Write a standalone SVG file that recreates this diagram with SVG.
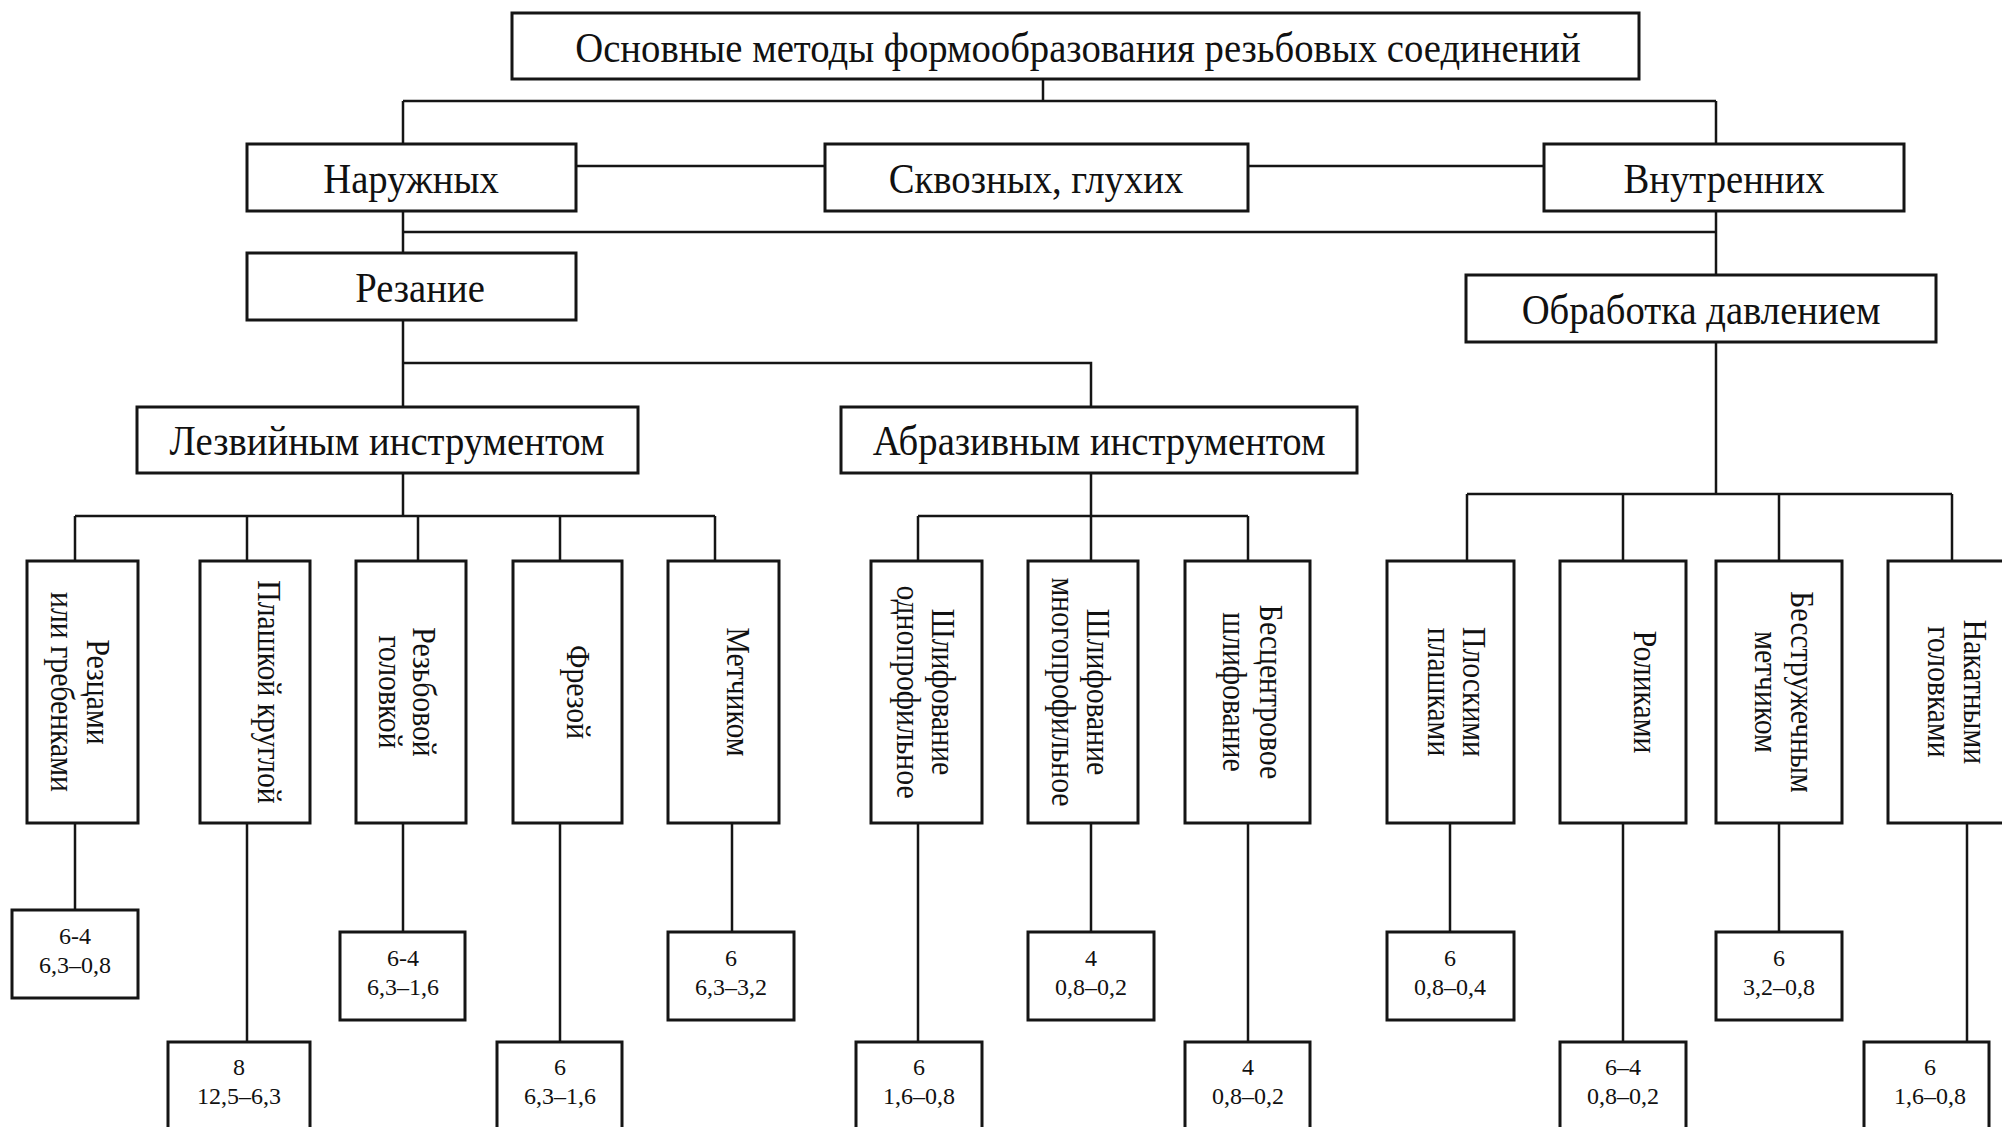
<svg xmlns="http://www.w3.org/2000/svg" width="2002" height="1127" viewBox="0 0 2002 1127">
<style>
.box{fill:#fff;stroke:#151515;stroke-width:3}
.ln{fill:none;stroke:#151515;stroke-width:2.5}
text{font-family:"Liberation Serif","Times New Roman",serif;fill:#111;text-anchor:middle}
.h{font-size:43px}
.v{font-size:33px}
.n{font-size:24px}
</style>
<rect width="2002" height="1127" fill="#fff"/>
<g id="connectors" class="ln">
<path d="M1043 79V101M403 101H1716M403 101V144M1716 101V144"/>
<path d="M576 166H825M1248 166H1544"/>
<path d="M403 211V253M403 232H1716M1716 211V275"/>
<path d="M403 320V407M403 363H1091V407"/>
<path d="M403 473V516M75 516H715M75 516V561M247 516V561M418 516V561M560 516V561M715 516V561"/>
<path d="M1091 473V561M918 516H1248M918 516V561M1248 516V561"/>
<path d="M1716 342V494M1467 494H1952M1467 494V561M1623 494V561M1779 494V561M1952 494V561"/>
<path d="M75 823V910M247 823V1042M403 823V932M560 823V1042M732 823V932M918 823V1042M1091 823V932M1248 823V1042M1450 823V932M1623 823V1042M1779 823V932M1967 823V1042"/>
</g>
<g id="n-root"><rect class="box" x="512" y="13" width="1127" height="66"/><text class="h" transform="translate(1078 62) scale(0.9 1)">Основные методы формообразования резьбовых соединений</text></g>
<g id="n-outer"><rect class="box" x="247" y="144" width="329" height="67"/><text class="h" transform="translate(411 193) scale(0.9 1)">Наружных</text></g>
<g id="n-through"><rect class="box" x="825" y="144" width="423" height="67"/><text class="h" transform="translate(1036 193) scale(0.9 1)">Сквозных, глухих</text></g>
<g id="n-inner"><rect class="box" x="1544" y="144" width="360" height="67"/><text class="h" transform="translate(1724 193) scale(0.9 1)">Внутренних</text></g>
<g id="n-cutting"><rect class="box" x="247" y="253" width="329" height="67"/><text class="h" transform="translate(420 302) scale(0.9 1)">Резание</text></g>
<g id="n-pressure"><rect class="box" x="1466" y="275" width="470" height="67"/><text class="h" transform="translate(1701 324) scale(0.9 1)">Обработка давлением</text></g>
<g id="n-blade"><rect class="box" x="137" y="407" width="501" height="66"/><text class="h" transform="translate(387 455) scale(0.9 1)">Лезвийным инструментом</text></g>
<g id="n-abrasive"><rect class="box" x="841" y="407" width="516" height="66"/><text class="h" transform="translate(1099 455) scale(0.9 1)">Абразивным инструментом</text></g>

<g id="n-cutters"><rect class="box" x="27" y="561" width="111" height="262"/><text class="v" transform="translate(87 692) rotate(90) scale(0.9 1)"><tspan x="0" y="0">Резцами</tspan><tspan x="0" y="36">или гребенками</tspan></text></g>
<g id="n-die"><rect class="box" x="200" y="561" width="110" height="262"/><text class="v" transform="translate(258 692) rotate(90) scale(0.9 1)">Плашкой круглой</text></g>
<g id="n-head"><rect class="box" x="356" y="561" width="110" height="262"/><text class="v" transform="translate(413 692) rotate(90) scale(0.9 1)"><tspan x="0" y="0">Резьбовой</tspan><tspan x="0" y="34">головкой</tspan></text></g>
<g id="n-mill"><rect class="box" x="513" y="561" width="109" height="262"/><text class="v" transform="translate(567 692) rotate(90) scale(0.9 1)">Фрезой</text></g>
<g id="n-tap"><rect class="box" x="668" y="561" width="111" height="262"/><text class="v" transform="translate(727 692) rotate(90) scale(0.9 1)">Метчиком</text></g>
<g id="n-grind1"><rect class="box" x="871" y="561" width="111" height="262"/><text class="v" transform="translate(932 692) rotate(90) scale(0.9 1)"><tspan x="0" y="0">Шлифование</tspan><tspan x="0" y="35">однопрофильное</tspan></text></g>
<g id="n-grind2"><rect class="box" x="1028" y="561" width="110" height="262"/><text class="v" transform="translate(1087 692) rotate(90) scale(0.9 1)"><tspan x="0" y="0">Шлифование</tspan><tspan x="0" y="35">многопрофильное</tspan></text></g>
<g id="n-centerless"><rect class="box" x="1185" y="561" width="125" height="262"/><text class="v" transform="translate(1260 692) rotate(90) scale(0.9 1)"><tspan x="0" y="0">Бесцентровое</tspan><tspan x="0" y="37">шлифование</tspan></text></g>
<g id="n-flat"><rect class="box" x="1387" y="561" width="127" height="262"/><text class="v" transform="translate(1463 692) rotate(90) scale(0.9 1)"><tspan x="0" y="0">Плоскими</tspan><tspan x="0" y="35">плашками</tspan></text></g>
<g id="n-rollers"><rect class="box" x="1560" y="561" width="126" height="262"/><text class="v" transform="translate(1634 692) rotate(90) scale(0.9 1)">Роликами</text></g>
<g id="n-chipless"><rect class="box" x="1716" y="561" width="126" height="262"/><text class="v" transform="translate(1791 692) rotate(90) scale(0.9 1)"><tspan x="0" y="0">Бесстружечным</tspan><tspan x="0" y="36">метчиком</tspan></text></g>
<g id="n-rolling"><rect class="box" x="1888" y="561" width="130" height="262"/><text class="v" transform="translate(1964 692) rotate(90) scale(0.9 1)"><tspan x="0" y="0">Накатными</tspan><tspan x="0" y="36">головками</tspan></text></g>

<g id="r-cutters"><rect class="box" x="12" y="910" width="126" height="88"/><text class="n" x="75" y="944">6-4</text><text class="n" x="75" y="973">6,3–0,8</text></g>
<g id="r-die"><rect class="box" x="168" y="1042" width="142" height="95"/><text class="n" x="239" y="1075">8</text><text class="n" x="239" y="1104">12,5–6,3</text></g>
<g id="r-head"><rect class="box" x="340" y="932" width="125" height="88"/><text class="n" x="403" y="966">6-4</text><text class="n" x="403" y="995">6,3–1,6</text></g>
<g id="r-mill"><rect class="box" x="497" y="1042" width="125" height="95"/><text class="n" x="560" y="1075">6</text><text class="n" x="560" y="1104">6,3–1,6</text></g>
<g id="r-tap"><rect class="box" x="668" y="932" width="126" height="88"/><text class="n" x="731" y="966">6</text><text class="n" x="731" y="995">6,3–3,2</text></g>
<g id="r-grind1"><rect class="box" x="856" y="1042" width="126" height="95"/><text class="n" x="919" y="1075">6</text><text class="n" x="919" y="1104">1,6–0,8</text></g>
<g id="r-grind2"><rect class="box" x="1028" y="932" width="126" height="88"/><text class="n" x="1091" y="966">4</text><text class="n" x="1091" y="995">0,8–0,2</text></g>
<g id="r-centerless"><rect class="box" x="1185" y="1042" width="125" height="95"/><text class="n" x="1248" y="1075">4</text><text class="n" x="1248" y="1104">0,8–0,2</text></g>
<g id="r-flat"><rect class="box" x="1387" y="932" width="127" height="88"/><text class="n" x="1450" y="966">6</text><text class="n" x="1450" y="995">0,8–0,4</text></g>
<g id="r-rollers"><rect class="box" x="1560" y="1042" width="126" height="95"/><text class="n" x="1623" y="1075">6–4</text><text class="n" x="1623" y="1104">0,8–0,2</text></g>
<g id="r-chipless"><rect class="box" x="1716" y="932" width="126" height="88"/><text class="n" x="1779" y="966">6</text><text class="n" x="1779" y="995">3,2–0,8</text></g>
<g id="r-rolling"><rect class="box" x="1864" y="1042" width="125" height="95"/><text class="n" x="1930" y="1075">6</text><text class="n" x="1930" y="1104">1,6–0,8</text></g>
</svg>
